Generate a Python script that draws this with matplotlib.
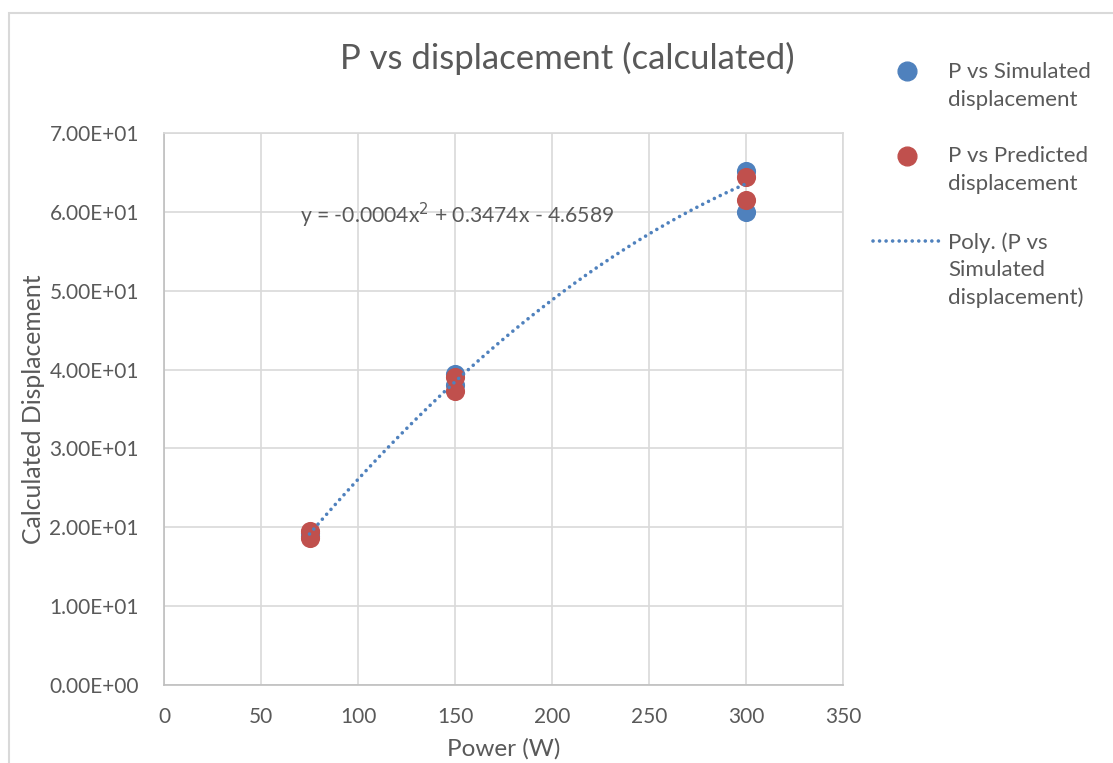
import matplotlib
matplotlib.use("Agg")
import matplotlib.pyplot as plt
from matplotlib.lines import Line2D
from matplotlib.patches import Rectangle
import numpy as np

# Measured displacement by laser power
power_sim = [75, 75, 150, 150, 300, 300]
disp_sim = [19.3, 18.9, 39.4, 38.0, 65.2, 60.0]
power_pred = [75, 75, 150, 150, 300, 300]
disp_pred = [19.5, 18.6, 39.0, 37.3, 64.4, 61.5]

# Quadratic trendline coefficients (a x^2 + b x + c)
poly_coef = [-0.0004, 0.3474, -4.6589]
trend_range = [75, 300]

title = "P vs displacement (calculated)"
xlabel = "Power (W)"
ylabel = "Calculated Displacement"
xticks = [0, 50, 100, 150, 200, 250, 300, 350]
yticks = [0, 10, 20, 30, 40, 50, 60, 70]

blue = "#4F81BD"
red = "#C0504D"
txt = "#595959"
grid = "#D9D9D9"

plt.rcParams['font.family'] = ['Lato', 'DejaVu Sans']

W, H = 1113, 763
fig = plt.figure(figsize=(W / 100, H / 100), dpi=100)

def fx(px):
    return px / W

def fy(py):
    return 1 - py / H

dots = (0, (0.01, 1.8))

# chart frame
fig.add_artist(Rectangle((fx(9), fy(800)), fx(1200), fy(13) - fy(800),
                         transform=fig.transFigure, fill=False,
                         edgecolor=grid, linewidth=1.5))

ax = fig.add_axes([fx(164), fy(685), fx(843) - fx(164), fy(133) - fy(685)])
ax.set_xlim(0, 350)
ax.set_ylim(0, 70)
ax.set_xticks(xticks)
ax.set_yticks(yticks)
ax.set_xticklabels([str(v) for v in xticks])
ax.set_yticklabels([f"{v:.2E}" for v in yticks])
ax.grid(True, color=grid, linewidth=1.2)
ax.set_axisbelow(True)
for s in ax.spines.values():
    s.set_color(grid)
    s.set_linewidth(1.2)
ax.spines['bottom'].set_color("#BFBFBF")
ax.spines['left'].set_color("#BFBFBF")
ax.tick_params(axis='y', length=0, labelsize=15, colors=txt, pad=18)
ax.tick_params(axis='x', length=0, labelsize=15, colors=txt, pad=16)

xs = np.linspace(trend_range[0], trend_range[1], 200)
ys = np.polyval(poly_coef, xs)
ax.plot(xs, ys, linestyle=dots, color=blue, linewidth=2.6,
        dash_capstyle='round', zorder=4)
ax.scatter(power_sim, disp_sim, s=190, color=blue, zorder=3, linewidths=0)
ax.scatter(power_pred, disp_pred, s=190, color=red, zorder=3.5, linewidths=0)

ax.text(70, 59.5, "y = -0.0004x$^{2}$ + 0.3474x - 4.6589", fontsize=15.2,
        color=txt, va='center', ha='left', zorder=5)

ax.set_xlabel(xlabel, fontsize=17.5, color=txt, labelpad=8)
ax.set_ylabel(ylabel, fontsize=17.8, color=txt, labelpad=3)

fig.text(fx(567), fy(58), title, fontsize=25, color=txt, ha='center', va='center')

# legend
fig.add_artist(Line2D([fx(907)], [fy(71)], marker='o', markersize=13.5,
                      color=blue, linestyle='none', transform=fig.transFigure))
fig.add_artist(Line2D([fx(907)], [fy(156)], marker='o', markersize=13.5,
                      color=red, linestyle='none', transform=fig.transFigure))
fig.add_artist(Line2D([fx(873), fx(940)], [fy(241), fy(241)],
                      linestyle=dots, color=blue, linewidth=2.6,
                      dash_capstyle='round', transform=fig.transFigure))
leg_kw = dict(fontsize=16, color=txt, ha='left', va='center', linespacing=1.45)
fig.text(fx(948), fy(86), "P vs Simulated\ndisplacement", **leg_kw)
fig.text(fx(948), fy(170), "P vs Predicted\ndisplacement", **leg_kw)
fig.text(fx(948), fy(270), "Poly. (P vs\nSimulated\ndisplacement)", **leg_kw)

fig.savefig("out.png", dpi=100)
